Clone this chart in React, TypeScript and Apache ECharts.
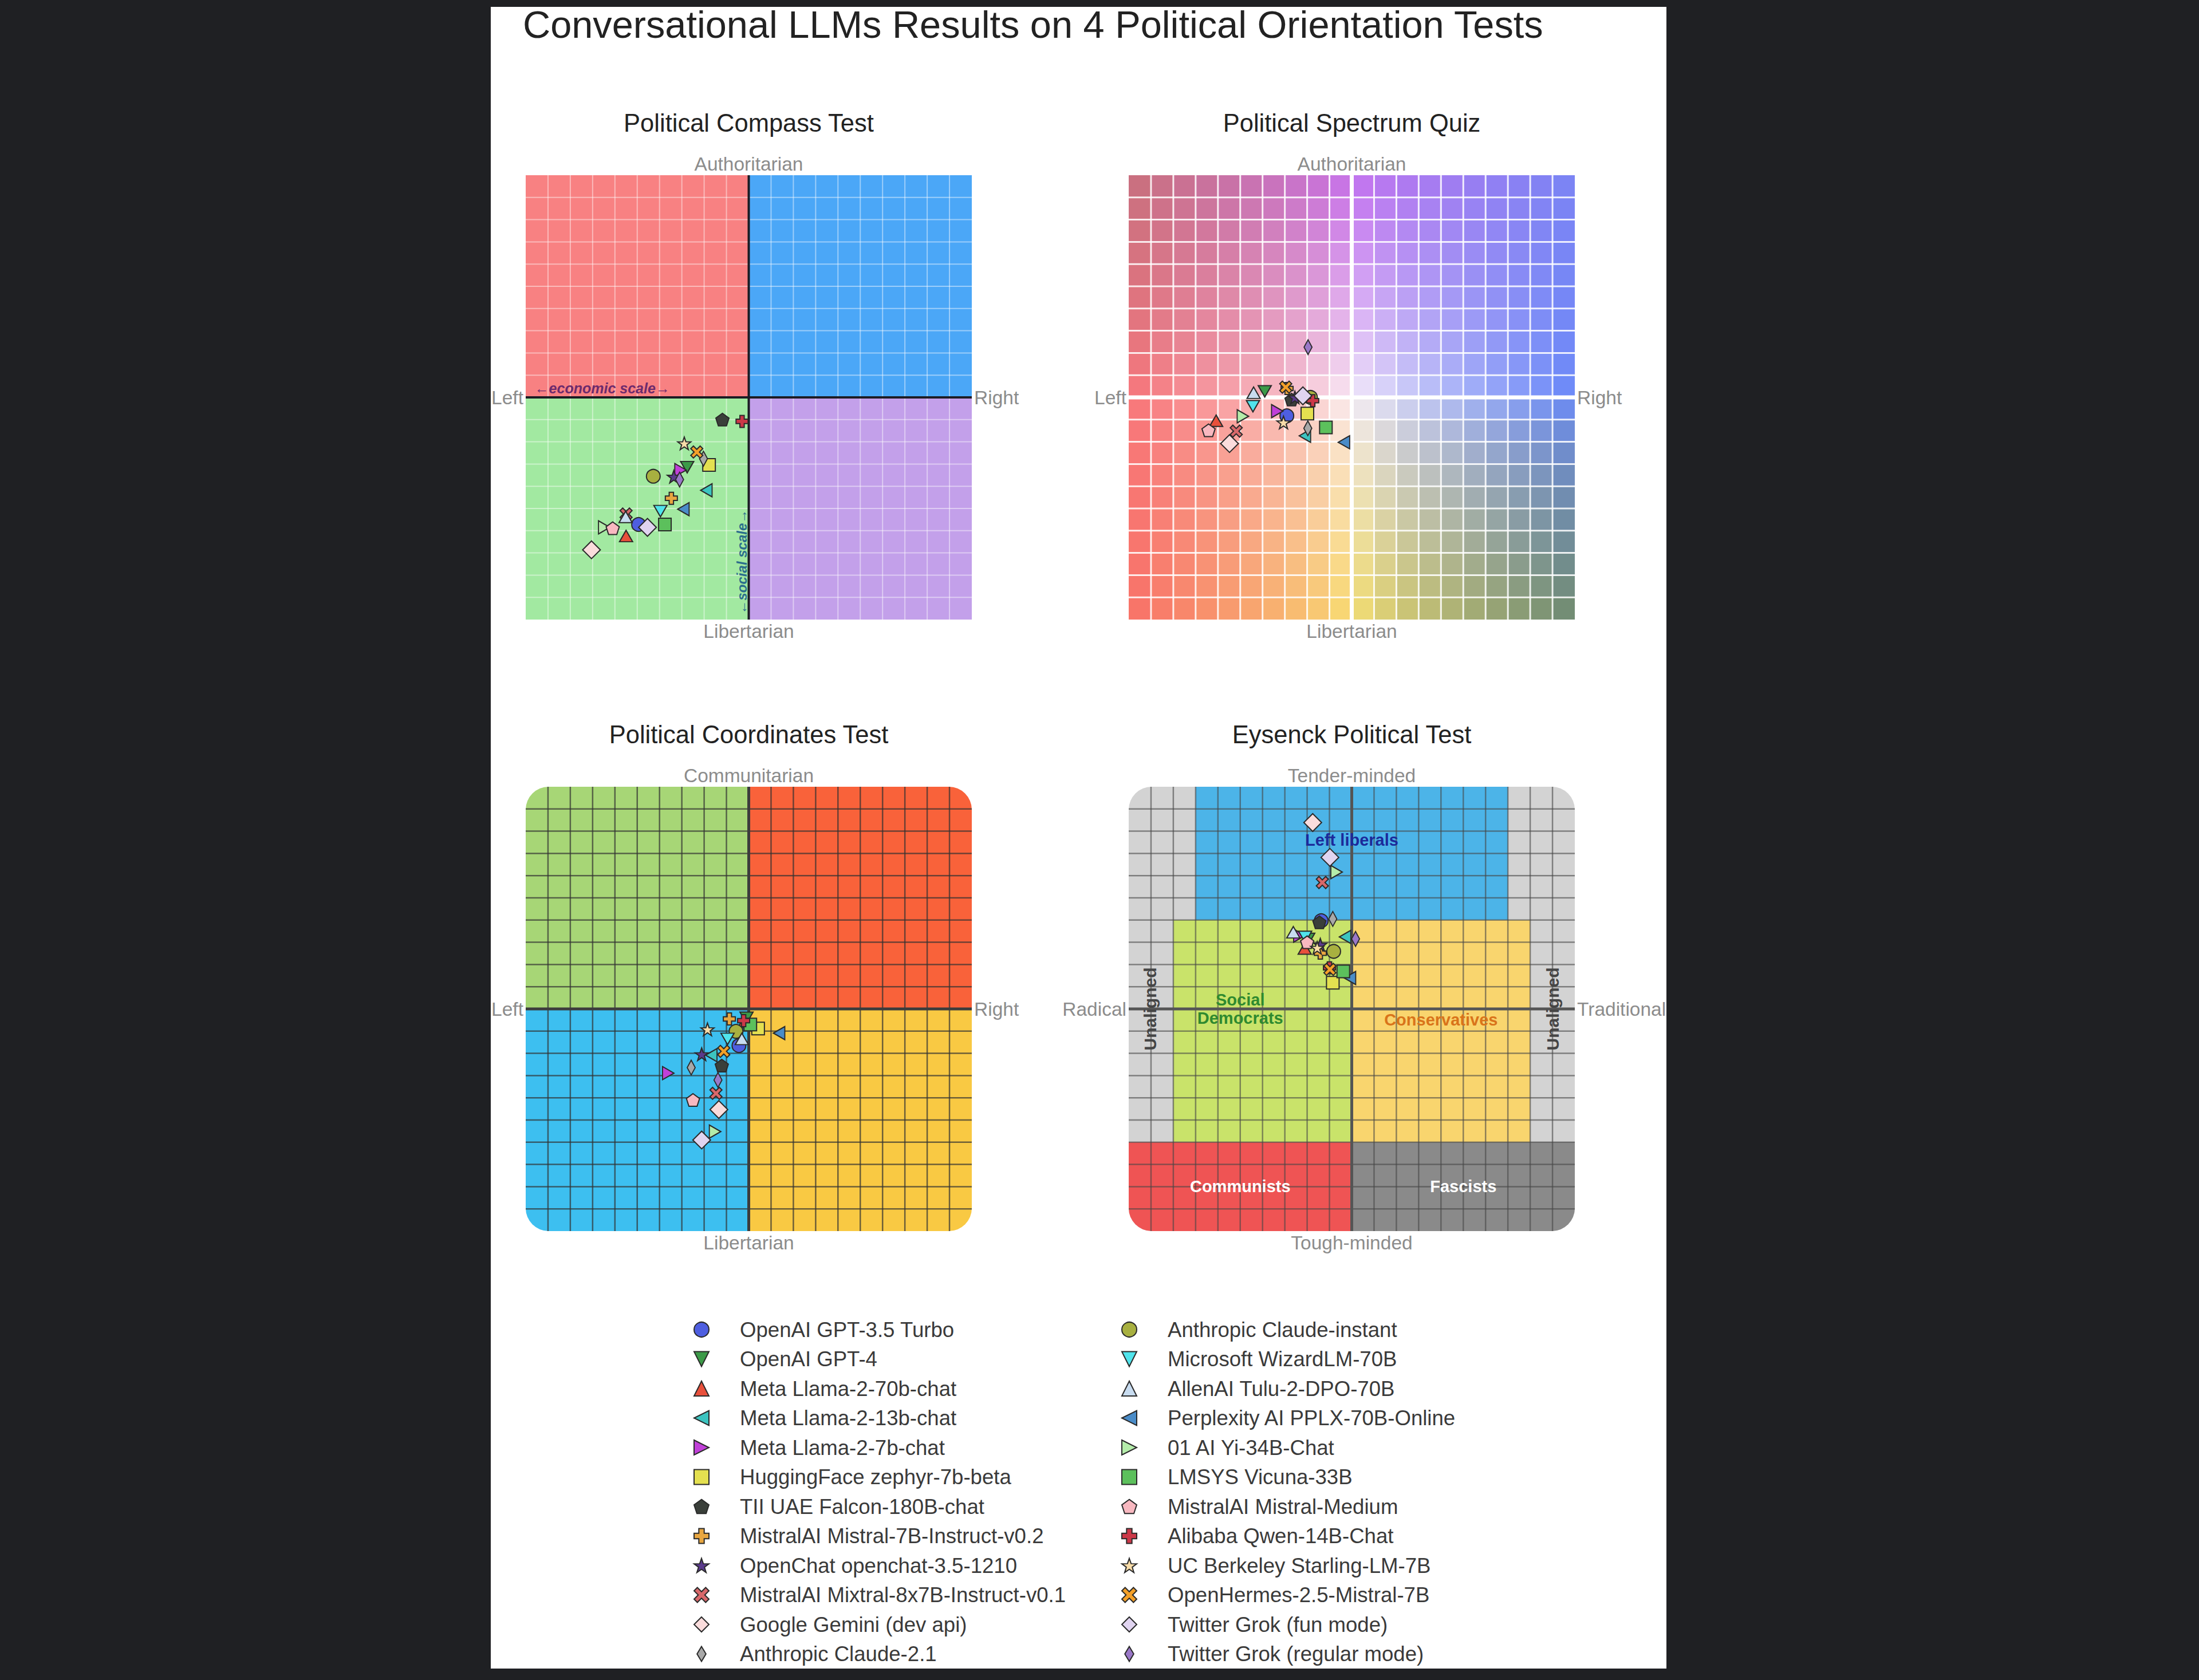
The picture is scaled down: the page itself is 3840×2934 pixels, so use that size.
import React, { useEffect, useRef } from "react";
import * as echarts from "echarts";

const FONT = "'Liberation Sans', Arial, Helvetica, sans-serif";

const MODEL_NAMES = [
  "OpenAI GPT-3.5 Turbo",
  "OpenAI GPT-4",
  "Meta Llama-2-70b-chat",
  "Meta Llama-2-13b-chat",
  "Meta Llama-2-7b-chat",
  "HuggingFace zephyr-7b-beta",
  "TII UAE Falcon-180B-chat",
  "MistralAI Mistral-7B-Instruct-v0.2",
  "OpenChat openchat-3.5-1210",
  "MistralAI Mixtral-8x7B-Instruct-v0.1",
  "Google Gemini (dev api)",
  "Anthropic Claude-2.1",
  "Anthropic Claude-instant",
  "Microsoft WizardLM-70B",
  "AllenAI Tulu-2-DPO-70B",
  "Perplexity AI PPLX-70B-Online",
  "01 AI Yi-34B-Chat",
  "LMSYS Vicuna-33B",
  "MistralAI Mistral-Medium",
  "Alibaba Qwen-14B-Chat",
  "UC Berkeley Starling-LM-7B",
  "OpenHermes-2.5-Mistral-7B",
  "Twitter Grok (fun mode)",
  "Twitter Grok (regular mode)",
];

const MODEL_COLORS = [
  "#4e5ee0", "#3c9a48", "#e8503c", "#3cc4c0", "#c040d8", "#e4e050",
  "#3a3f3a", "#e8a640", "#5a3a8c", "#d8686a", "#fadcdc", "#a8a8a8",
  "#a8b040", "#50e4ec", "#c8dcf0", "#4a8cc8", "#b4ecaa", "#5cc05c",
  "#f8b8c0", "#cc3848", "#f8dca8", "#f4a028", "#e0d4f0", "#9a78c8",
];

const MODEL_SHAPES = [
  "circle", "triDown", "triUp", "triLeft", "triRight", "square",
  "pentagon", "cross", "star", "xThick", "diamond", "thinDiamond",
  "circle", "triDown", "triUp", "triLeft", "triRight", "square",
  "pentagon", "cross", "star", "xThick", "diamond", "thinDiamond",
];

// Political Compass Test (-10..10)
const COMPASS_X = [-4.94, -2.76, -5.5, -1.9, -3.06, -1.78, -1.18, -3.47, -3.36, -5.5, -7.05, -2.03, -4.28, -3.96, -5.52, -2.93, -6.48, -3.76, -6.1, -0.3, -2.89, -2.33, -4.54, -3.1];
const COMPASS_Y = [-5.72, -3.14, -6.24, -4.18, -3.27, -3.04, -1.0, -4.54, -3.57, -5.25, -6.86, -2.76, -3.55, -5.12, -5.38, -5.03, -5.85, -5.72, -5.89, -1.08, -2.07, -2.46, -5.85, -3.7];
// Political Spectrum Quiz (-10..10)
const SPECTRUM_X = [-2.91, -3.9, -6.08, -2.1, -3.34, -1.99, -2.7, -2.9, -2.55, -5.18, -5.48, -1.97, -1.85, -4.43, -4.4, -0.35, -4.88, -1.16, -6.42, -1.75, -3.06, -2.96, -2.19, -1.96];
const SPECTRUM_Y = [-0.83, 0.27, -1.05, -1.73, -0.62, -0.73, -0.1, 0.4, 0.0, -1.52, -2.08, -1.39, 0.0, -0.4, 0.21, -2.02, -0.85, -1.35, -1.48, -0.15, -1.13, 0.46, 0.07, 2.26];
// Political Coordinates Test (-100..100)
const COORDS_X = [-4.4, -1.0, -2.0, -16.8, -36.1, 4.2, -12.1, -8.7, -21.1, -14.7, -13.4, -25.8, -5.7, -9.5, -3.1, 13.6, -15.1, 0.7, -25.0, -2.3, -18.5, -11.2, -21.1, -13.8];
const COORDS_Y = [-16.5, -4.0, -6.0, -20.8, -28.9, -8.8, -25.5, -4.5, -20.4, -38.0, -45.3, -26.4, -10.1, -13.5, -13.5, -10.9, -55.2, -7.0, -41.0, -5.3, -9.2, -19.1, -59.0, -32.0];
// Eysenck Political Test (-10..10)
const EYSENCK_X = [-1.37, -1.95, -2.11, -0.3, -2.35, -0.85, -1.45, -1.41, -1.41, -1.32, -1.75, -0.85, -0.81, -2.09, -2.62, -0.08, -0.68, -0.38, -2.0, -1.0, -1.55, -0.98, -0.98, 0.17];
const EYSENCK_Y = [3.97, 3.15, 2.72, 3.24, 3.3, 1.18, 3.9, 2.51, 2.89, 5.69, 8.39, 4.05, 2.59, 3.24, 3.45, 1.39, 6.16, 1.69, 3.0, 1.85, 2.75, 1.78, 6.82, 3.15];

const PANEL_X = [COMPASS_X, SPECTRUM_X, COORDS_X, EYSENCK_X];
const PANEL_Y = [COMPASS_Y, SPECTRUM_Y, COORDS_Y, EYSENCK_Y];
const PANEL_RANGE = [10, 10, 100, 10];
const PANEL_TITLES = ["Political Compass Test", "Political Spectrum Quiz", "Political Coordinates Test", "Eysenck Political Test"];
const PANEL_AXIS_LABELS = [
  ["Authoritarian", "Libertarian", "Left", "Right"],
  ["Authoritarian", "Libertarian", "Left", "Right"],
  ["Communitarian", "Libertarian", "Left", "Right"],
  ["Tender-minded", "Tough-minded", "Radical", "Traditional"],
];
const MAIN_TITLE = "Conversational LLMs Results on 4 Political Orientation Tests";

// Eysenck regions: [x0, y0, x1, y1, label]
const EYSENCK_REGIONS: [number, number, number, number, string][] = [
  [-7, 4, 7, 10, "Left liberals"],
  [-8, -6, 0, 4, "Social Democrats"],
  [0, -6, 8, 4, "Conservatives"],
  [-10, -10, 0, -6, "Communists"],
  [0, -10, 10, -6, "Fascists"],
];

const GRIDS = [
  { left: 918, top: 306, width: 779, height: 776 },
  { left: 1971, top: 306, width: 779, height: 776 },
  { left: 918, top: 1374, width: 779, height: 776 },
  { left: 1971, top: 1374, width: 779, height: 776 },
];

const SHAPES: Record<string, { symbol: string; size: number[] }> = {
  circle: { symbol: "circle", size: [24, 24] },
  triUp: { symbol: "path://M50,0L100,100L0,100Z", size: [23, 20] },
  triDown: { symbol: "path://M0,0L100,0L50,100Z", size: [23, 20] },
  triLeft: { symbol: "path://M0,50L100,0L100,100Z", size: [20, 23] },
  triRight: { symbol: "path://M0,0L100,50L0,100Z", size: [20, 23] },
  square: { symbol: "rect", size: [22, 22] },
  pentagon: { symbol: "path://M50,0L97.55,34.55L79.39,90.45L20.61,90.45L2.45,34.55Z", size: [23, 22] },
  cross: { symbol: "path://M32,0H68V32H100V68H68V100H32V68H0V32H32Z", size: [21, 21] },
  star: { symbol: "path://M50,0L61.76,33.82L97.55,34.55L69.02,56.18L79.39,90.45L50,70L20.61,90.45L30.98,56.18L2.45,34.55L38.24,33.82Z", size: [23, 22] },
  xThick: { symbol: "path://M0,22L22,0L50,28L78,0L100,22L72,50L100,78L78,100L50,72L22,100L0,78L28,50Z", size: [21, 21] },
  diamond: { symbol: "diamond", size: [31, 31] },
  thinDiamond: { symbol: "path://M50,0L80,50L50,100L20,50Z", size: [14, 26] },
};

function hex(c: string) {
  return [parseInt(c.slice(1, 3), 16), parseInt(c.slice(3, 5), 16), parseInt(c.slice(5, 7), 16)];
}
const SPEC = {
  tl: hex("#c8707c"), t: hex("#c670ee"), tr: hex("#7a84f4"),
  l: hex("#f87478"), c: hex("#fbf2fa"), r: hex("#6888f8"),
  bl: hex("#f87068"), b: hex("#f8e070"), br: hex("#6e8a70"),
};
function spectrumColor(x: number, y: number) {
  const s = Math.pow(Math.abs(x) / 10, 0.8);
  const t = Math.pow(Math.abs(y) / 10, 0.8);
  const h = x < 0 ? SPEC.l : SPEC.r;
  const v = y > 0 ? SPEC.t : SPEC.b;
  const k = x < 0 ? (y > 0 ? SPEC.tl : SPEC.bl) : (y > 0 ? SPEC.tr : SPEC.br);
  const out = [0, 1, 2].map((i) =>
    Math.round(SPEC.c[i] * (1 - s) * (1 - t) + h[i] * s * (1 - t) + v[i] * (1 - s) * t + k[i] * s * t)
  );
  return `rgb(${out[0]},${out[1]},${out[2]})`;
}

function rectEl(api: any, x0: number, y0: number, x1: number, y1: number, fill: string, r?: number[]) {
  const a = api.coord([x0, y1]);
  const b = api.coord([x1, y0]);
  return { type: "rect", shape: { x: a[0], y: a[1], width: b[0] - a[0], height: b[1] - a[1], r: r || 0 }, style: { fill } };
}
function lineEl(api: any, p: number[], q: number[], stroke: string, w: number) {
  const a = api.coord(p);
  const b = api.coord(q);
  return { type: "line", shape: { x1: a[0], y1: a[1], x2: b[0], y2: b[1] }, style: { stroke, lineWidth: w } };
}
function gridLinesEls(api: any, R: number, step: number, stroke: string, w: number) {
  const out: any[] = [];
  for (let v = -R + step; v < R - 1e-9; v += step) {
    if (Math.abs(v) < 1e-9) continue;
    out.push(lineEl(api, [v, -R], [v, R], stroke, w));
    out.push(lineEl(api, [-R, v], [R, v], stroke, w));
  }
  return out;
}
function textEl(x: number, y: number, text: string, o: any) {
  return {
    type: "text",
    x,
    y,
    rotation: o.rotation || 0,
    style: {
      text,
      fill: o.fill,
      fontSize: o.size,
      fontFamily: FONT,
      fontWeight: o.weight || "normal",
      fontStyle: o.fontStyle || "normal",
      align: o.align || "center",
      verticalAlign: o.va || "middle",
      lineHeight: o.lh,
    },
  };
}
function axisLabelEls(api: any, p: number) {
  const R = PANEL_RANGE[p];
  const lab = PANEL_AXIS_LABELS[p];
  const col = "#8c8c8c";
  const top = api.coord([0, R]);
  const bot = api.coord([0, -R]);
  const lef = api.coord([-R, 0]);
  const rig = api.coord([R, 0]);
  return [
    textEl(top[0], top[1] - 20, lab[0], { fill: col, size: 33.5 }),
    textEl(bot[0], bot[1] + 20, lab[1], { fill: col, size: 33.5 }),
    textEl(lef[0] - 4, lef[1], lab[2], { fill: col, size: 33.5, align: "right" }),
    textEl(rig[0] + 4, rig[1], lab[3], { fill: col, size: 33.5, align: "left" }),
  ];
}

function renderCompass(params: any, api: any) {
  const ch: any[] = [];
  ch.push(rectEl(api, -10, 0, 0, 10, "#f88182"));
  ch.push(rectEl(api, 0, 0, 10, 10, "#4ba7f7"));
  ch.push(rectEl(api, -10, -10, 0, 0, "#a2e9a1"));
  ch.push(rectEl(api, 0, -10, 10, 0, "#c3a0ea"));
  ch.push(...gridLinesEls(api, 10, 1, "rgba(255,255,255,0.45)", 2));
  ch.push(lineEl(api, [0, -10], [0, 10], "#1c1c24", 4));
  ch.push(lineEl(api, [-10, 0], [10, 0], "#1c1c24", 4));
  const e = api.coord([-9.6, 0]);
  ch.push(textEl(e[0], e[1] - 4, "\u2190economic scale\u2192", { fill: "#6d2b6d", size: 25, weight: "bold", fontStyle: "italic", align: "left", va: "bottom" }));
  const s = api.coord([-0.3, -7.4]);
  ch.push(textEl(s[0], s[1], "\u2190social scale\u2192", { fill: "#2b6f8c", size: 24, weight: "bold", fontStyle: "italic", rotation: Math.PI / 2 }));
  ch.push(...axisLabelEls(api, 0));
  return { type: "group", children: ch };
}

function renderSpectrum(params: any, api: any) {
  const ch: any[] = [];
  for (let i = -10; i < 10; i++) {
    for (let j = -10; j < 10; j++) {
      ch.push(rectEl(api, i, j, i + 1, j + 1, spectrumColor(i + 0.5, j + 0.5)));
    }
  }
  ch.push(...gridLinesEls(api, 10, 1, "rgba(255,255,255,0.85)", 3));
  ch.push(lineEl(api, [0, -10], [0, 10], "#ffffff", 7));
  ch.push(lineEl(api, [-10, 0], [10, 0], "#ffffff", 7));
  ch.push(...axisLabelEls(api, 1));
  return { type: "group", children: ch };
}

function renderCoords(params: any, api: any) {
  const R = 40;
  const ch: any[] = [];
  ch.push(rectEl(api, -100, 0, 0, 100, "#a7d676", [R, 0, 0, 0]));
  ch.push(rectEl(api, 0, 0, 100, 100, "#f9623a", [0, R, 0, 0]));
  ch.push(rectEl(api, -100, -100, 0, 0, "#3dbff0", [0, 0, 0, R]));
  ch.push(rectEl(api, 0, -100, 100, 0, "#f9c943", [0, 0, R, 0]));
  ch.push(...gridLinesEls(api, 100, 10, "rgba(50,50,50,0.7)", 2.5));
  ch.push(lineEl(api, [0, -100], [0, 100], "#3c3c3c", 5));
  ch.push(lineEl(api, [-100, 0], [100, 0], "#3c3c3c", 5));
  ch.push(...axisLabelEls(api, 2));
  return { type: "group", children: ch };
}

function renderEysenck(params: any, api: any) {
  const R = 40;
  const ch: any[] = [];
  const fills = ["#4cb4e8", "#c9e36a", "#f9d56e", "#ef5454", "#8a8a8a"];
  const radii = [undefined, undefined, undefined, [0, 0, 0, R], [0, 0, R, 0]];
  ch.push(rectEl(api, -10, -10, 10, 10, "#d3d3d3", [R, R, R, R]));
  EYSENCK_REGIONS.forEach((g, i) => ch.push(rectEl(api, g[0], g[1], g[2], g[3], fills[i], radii[i] as any)));
  ch.push(...gridLinesEls(api, 10, 1, "rgba(70,70,70,0.6)", 2.5));
  ch.push(lineEl(api, [0, -10], [0, 10], "#555555", 5));
  ch.push(lineEl(api, [-10, 0], [10, 0], "#555555", 5));
  const ll = api.coord([0, 7.6]);
  ch.push(textEl(ll[0], ll[1], "Left liberals", { fill: "#1c2a9a", size: 29, weight: "bold" }));
  const sd = api.coord([-5, 0]);
  ch.push(textEl(sd[0], sd[1], "Social\nDemocrats", { fill: "#2f8a2f", size: 29, weight: "bold", lh: 32 }));
  const cv = api.coord([4, -0.5]);
  ch.push(textEl(cv[0], cv[1], "Conservatives", { fill: "#d9741a", size: 29, weight: "bold" }));
  const cm = api.coord([-5, -8]);
  ch.push(textEl(cm[0], cm[1], "Communists", { fill: "#ffffff", size: 29, weight: "bold" }));
  const fa = api.coord([5, -8]);
  ch.push(textEl(fa[0], fa[1], "Fascists", { fill: "#ffffff", size: 29, weight: "bold" }));
  const u1 = api.coord([-9.05, 0]);
  ch.push(textEl(u1[0], u1[1], "Unaligned", { fill: "#454545", size: 30, weight: "bold", rotation: Math.PI / 2 }));
  const u2 = api.coord([9.0, 0]);
  ch.push(textEl(u2[0], u2[1], "Unaligned", { fill: "#454545", size: 30, weight: "bold", rotation: Math.PI / 2 }));
  ch.push(...axisLabelEls(api, 3));
  return { type: "group", children: ch };
}

const RENDERERS = [renderCompass, renderSpectrum, renderCoords, renderEysenck];

function buildOption() {
  const series: any[] = [];
  RENDERERS.forEach((fn, p) => {
    series.push({
      type: "custom",
      name: "bg" + p,
      xAxisIndex: p,
      yAxisIndex: p,
      z: 1,
      silent: true,
      clip: false,
      data: [[0, 0]],
      renderItem: fn,
    });
  });
  MODEL_NAMES.forEach((name, m) => {
    const shape = SHAPES[MODEL_SHAPES[m]];
    for (let p = 0; p < 4; p++) {
      series.push({
        type: "scatter",
        name,
        xAxisIndex: p,
        yAxisIndex: p,
        z: 3,
        symbol: shape.symbol,
        symbolSize: shape.size,
        symbolKeepAspect: false,
        itemStyle: { color: MODEL_COLORS[m], borderColor: "#2a2a2a", borderWidth: 2, opacity: 1 },
        emphasis: { disabled: true },
        silent: true,
        data: [[PANEL_X[p][m], PANEL_Y[p][m]]],
      });
    }
  });

  const legendText = { fontSize: 36.6, fontFamily: FONT, color: "#3a3a3a", padding: [0, 0, 0, 49], lineHeight: 40 };
  const legendBase = {
    orient: "vertical",
    top: 2302,
    itemWidth: 26,
    itemHeight: 26,
    itemGap: 11.5,
    padding: 0,
    selectedMode: false,
    symbolKeepAspect: true,
    textStyle: legendText,
  };

  const graphics: any[] = [
    { type: "rect", z: -10, silent: true, shape: { x: 857, y: 12, width: 2053, height: 2902 }, style: { fill: "#ffffff" } },
    { type: "text", x: 913, y: 43, style: { text: MAIN_TITLE, fill: "#222222", fontSize: 66.7, fontFamily: FONT, align: "left", verticalAlign: "middle" } },
  ];
  const titleY = [215, 215, 1283, 1283];
  PANEL_TITLES.forEach((t, p) => {
    graphics.push({
      type: "text",
      x: GRIDS[p].left + GRIDS[p].width / 2,
      y: titleY[p],
      style: { text: t, fill: "#222222", fontSize: 43.5, fontFamily: FONT, align: "center", verticalAlign: "middle" },
    });
  });

  return {
    animation: false,
    backgroundColor: "#1f2023",
    grid: GRIDS,
    xAxis: GRIDS.map((g, p) => ({ type: "value", gridIndex: p, min: -PANEL_RANGE[p], max: PANEL_RANGE[p], show: false })),
    yAxis: GRIDS.map((g, p) => ({ type: "value", gridIndex: p, min: -PANEL_RANGE[p], max: PANEL_RANGE[p], show: false })),
    legend: [
      { ...legendBase, left: 1211, data: MODEL_NAMES.slice(0, 12) },
      { ...legendBase, left: 1958, data: MODEL_NAMES.slice(12) },
    ],
    graphic: graphics,
    series,
  };
}

export default function App() {
  const ref = useRef<HTMLDivElement>(null);
  useEffect(() => {
    const chart = echarts.init(ref.current as HTMLDivElement, null, { renderer: "svg", width: 3840, height: 2934 });
    chart.setOption(buildOption() as any);
    return () => chart.dispose();
  }, []);
  return (
    <div
      ref={ref}
      style={{ position: "fixed", left: 0, top: 0, width: 3840, height: 2934, background: "#1f2023" }}
    />
  );
}
